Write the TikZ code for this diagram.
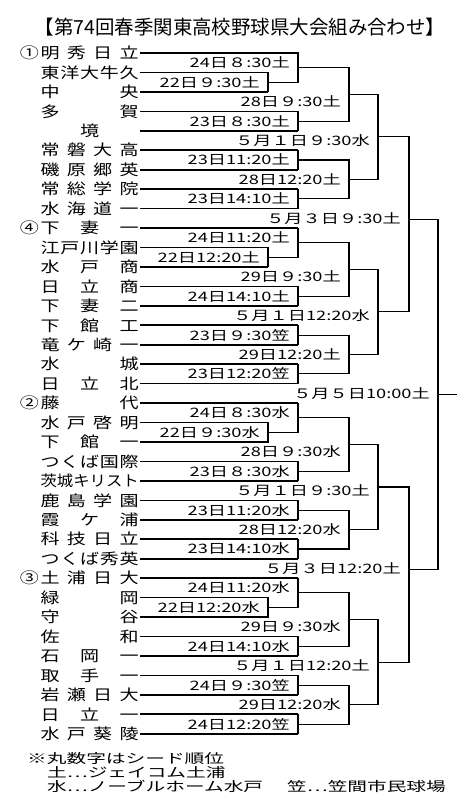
\documentclass[tikz,border=0pt]{standalone}
\usepackage{fontspec}
\usepackage{graphicx}
\usetikzlibrary{positioning}
\newfontfamily\titlefont{Noto Sans CJK JP}
\newfontfamily\teamfont[FakeStretch=1.27]{Noto Sans CJK JP}
\newfontfamily\datefont[FakeStretch=1.4]{Noto Sans CJK JP}
\newfontfamily\notefont[FakeStretch=1.5]{Noto Sans CJK JP}

% spread the characters of a school name over a fixed width
\makeatletter
\def\spreadchars#1#2{#1\ifx\relax#2\expandafter\@gobble\else\hfill\expandafter\@firstofone\fi{\spreadchars#2}}
\makeatother
\newcommand\tname[1]{\makebox[2.94cm][s]{\expandafter\spreadchars#1\relax}}
\def\rh{19.45}

\begin{document}
\begin{tikzpicture}[x=0.03cm,y=-0.03cm,
    team/.style={anchor=east,inner sep=1pt,font=\teamfont\fontsize{12.8pt}{14pt}\selectfont},
    seed/.style={inner sep=0pt,font=\teamfont\fontsize{12.8pt}{14pt}\selectfont},
    date/.style={anchor=east,inner sep=0pt,font=\datefont\fontsize{11.1pt}{13pt}\selectfont},
    note/.style={anchor=west,inner sep=0pt,font=\notefont\fontsize{11.2pt}{13pt}\selectfont},
    tline/.style={line width=1.4pt},
    bline/.style={line width=0.9pt}]
    \useasboundingbox (0,0) rectangle (474,810);

    \node[font=\titlefont\fontsize{16.6pt}{18pt}\selectfont] (title) at (240,27) {【第74回春季関東高校野球県大会組み合わせ】};

    \foreach \b/\o/\names in {
        a/0/{明秀日立,東洋大牛久,中央,多賀,\hfill 境\hfill,常磐大高,磯原郷英,常総学院,水海道一},
        b/9/{下妻一,江戸川学園,水戸商,日立商,下妻二,下館工,竜ケ崎一,水城,日立北},
        c/18/{藤代,水戸啓明,下館一,つくば国際,{{\scalebox{0.86}[1]{茨城キリスト}}},鹿島学園,霞ケ浦,科技日立,つくば秀英},
        d/27/{土浦日大,緑岡,守谷,佐和,石岡一,取手一,岩瀬日大,日立一,水戸葵陵}}{
        \foreach \n [count=\k from 0] in \names
            \node[team] (\b\k) at (140,{53+\rh*(\o+\k)}) {\tname{\n}};
        \coordinate (\b-m1) at (268,{53+\rh*(\o+1.5)});
        \coordinate (\b-m2) at (298,{53+\rh*(\o+0.75)});
        \coordinate (\b-m3) at (298,{53+\rh*(\o+3.5)});
        \coordinate (\b-m4) at (349,{53+\rh*(\o+2.125)});
        \coordinate (\b-m5) at (298,{53+\rh*(\o+5.5)});
        \coordinate (\b-m6) at (298,{53+\rh*(\o+7.5)});
        \coordinate (\b-m7) at (349,{53+\rh*(\o+6.5)});
        \coordinate (\b-m8) at (378,{53+\rh*(\o+4.3125)});
        \foreach \k/\e in {0/m2,1/m1,2/m1,3/m3,4/m3,5/m5,6/m5,7/m6,8/m6}
            \draw[tline] (\b\k.east) -- (\b\k.east -| \b-\e);
        \draw[bline] (\b1.east) -| (\b-m1) |- (\b2.east);
        \draw[bline] (\b0.east) -| (\b-m2) |- (\b-m1);
        \draw[bline] (\b3.east) -| (\b-m3) |- (\b4.east);
        \draw[bline] (\b5.east) -| (\b-m5) |- (\b6.east);
        \draw[bline] (\b7.east) -| (\b-m6) |- (\b8.east);
        \draw[bline] (\b-m2) -| (\b-m4) |- (\b-m3);
        \draw[bline] (\b-m5) -| (\b-m7) |- (\b-m6);
        \draw[bline] (\b-m4) -| (\b-m8) |- (\b-m7);
    }

    \coordinate (ab) at (409,{53+\rh*8.55});
    \coordinate (cd) at (409,{53+\rh*26.55});
    \coordinate (fin) at (438,{53+\rh*17.55});
    \coordinate (champ) at (457,{53+\rh*17.55});
    \draw[bline] (a-m8) -| (ab) |- (b-m8);
    \draw[bline] (c-m8) -| (cd) |- (d-m8);
    \draw[bline] (ab) -| (fin) |- (cd);
    \draw[bline] (fin) -- (champ);

    \node[seed,left=0pt of a0] (s1) {①};
    \node[seed,left=0pt of b0] (s4) {④};
    \node[seed,left=0pt of c0] (s2) {②};
    \node[seed,left=0pt of d0] (s3) {③};

    % dates
    \node[date] (a-d1) at (260,{53+\rh*1.5}) {22日９:30土};
    \node[date] (a-d2) at (290,{53+\rh*0.5}) {24日８:30土};
    \node[date] (a-d3) at (290,{53+\rh*3.5}) {23日８:30土};
    \node[date] (a-d4) at (341,{53+\rh*2.5}) {28日９:30土};
    \node[date] (a-d5) at (290,{53+\rh*5.5}) {23日11:20土};
    \node[date] (a-d6) at (290,{53+\rh*7.5}) {23日14:10土};
    \node[date] (a-d7) at (341,{53+\rh*6.5}) {28日12:20土};
    \node[date] (a-d8) at (370,{53+\rh*4.5}) {５月１日９:30水};
    \node[date] (ab-d) at (401,{53+\rh*8.5}) {５月３日９:30土};
    \node[date] (b-d1) at (260,{53+\rh*10.5}) {22日12:20土};
    \node[date] (b-d2) at (290,{53+\rh*9.5}) {24日11:20土};
    \node[date] (b-d3) at (290,{53+\rh*12.5}) {24日14:10土};
    \node[date] (b-d4) at (341,{53+\rh*11.5}) {29日９:30土};
    \node[date] (b-d5) at (290,{53+\rh*14.5}) {23日９:30笠};
    \node[date] (b-d6) at (290,{53+\rh*16.5}) {23日12:20笠};
    \node[date] (b-d7) at (341,{53+\rh*15.5}) {29日12:20土};
    \node[date] (b-d8) at (370,{53+\rh*13.5}) {５月１日12:20水};
    \node[date] (fin-d) at (430,{53+\rh*17.5}) {５月５日10:00土};
    \node[date] (c-d1) at (260,{53+\rh*19.5}) {22日９:30水};
    \node[date] (c-d2) at (290,{53+\rh*18.5}) {24日８:30水};
    \node[date] (c-d3) at (290,{53+\rh*21.5}) {23日８:30水};
    \node[date] (c-d4) at (341,{53+\rh*20.5}) {28日９:30水};
    \node[date] (c-d5) at (290,{53+\rh*23.5}) {23日11:20水};
    \node[date] (c-d6) at (290,{53+\rh*25.5}) {23日14:10水};
    \node[date] (c-d7) at (341,{53+\rh*24.5}) {28日12:20水};
    \node[date] (c-d8) at (370,{53+\rh*22.5}) {５月１日９:30土};
    \node[date] (cd-d) at (401,{53+\rh*26.5}) {５月３日12:20土};
    \node[date] (d-d1) at (260,{53+\rh*28.5}) {22日12:20水};
    \node[date] (d-d2) at (290,{53+\rh*27.5}) {24日11:20水};
    \node[date] (d-d3) at (290,{53+\rh*30.5}) {24日14:10水};
    \node[date] (d-d4) at (341,{53+\rh*29.5}) {29日９:30水};
    \node[date] (d-d5) at (290,{53+\rh*32.5}) {24日９:30笠};
    \node[date] (d-d6) at (290,{53+\rh*34.5}) {24日12:20笠};
    \node[date] (d-d7) at (341,{53+\rh*33.5}) {29日12:20水};
    \node[date] (d-d8) at (370,{53+\rh*31.5}) {５月１日12:20土};

    % notes
    \node[note] (n1) at (27,759) {※丸数字はシード順位};
    \node[note] (n2) at (47,772.5) {土⋯ジェイコム土浦};
    \node[note] (n3) at (47,786) {水⋯ノーブルホーム水戸};
    \node[note] (n4) at (287,786) {笠⋯笠間市民球場};
\end{tikzpicture}
\end{document}
